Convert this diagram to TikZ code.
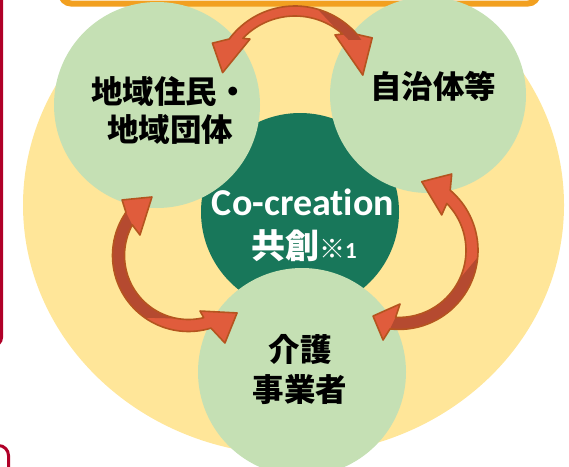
\documentclass[tikz,border=0pt]{standalone}
\usepackage{fontspec}
\setmainfont{Carlito}[Ligatures={NoCommon}]
\newfontfamily\jp{Noto Sans CJK JP}
\definecolor{yel}{RGB}{255,230,153}
\definecolor{lgreen}{RGB}{197,224,180}
\definecolor{dgreen}{RGB}{24,119,90}
\definecolor{crim}{RGB}{176,0,40}
\definecolor{obox}{RGB}{242,160,32}
\definecolor{arrfill}{RGB}{224,92,60}
\definecolor{arrdark}{RGB}{181,74,48}
\definecolor{arredge}{RGB}{181,84,31}
\def\TA{plot[domain=-40.8:-143.3,samples=40] ({82*cos(\x)},{82*sin(\x)})
  -- (-151.5:94) -- (-168:74) -- (-132.6:66.5)
  -- plot[domain=-136.4:-48.6,samples=40] ({72*cos(\x)},{72*sin(\x)})
  -- (-53:66.4) -- (-10.8:69) -- (-33:92) -- cycle}
\def\TAd{plot[domain=-74:-36,samples=30] ({82*cos(\x)},{82*sin(\x)})
  -- plot[domain=-42:-55,samples=20] ({72*cos(\x)},{72*sin(\x)}) -- cycle}
\def\LA{plot[domain=72.8:214.6,samples=50] ({76*cos(\x)},{76*sin(\x)})
  -- (219.9:86.6) -- (238:69) -- (202.9:52.7)
  -- plot[domain=208.6:76.2,samples=50] ({64*cos(\x)},{64*sin(\x)})
  -- (78.3:56.7) -- (49.8:75.2) -- (67.4:94.8) -- cycle}
\def\LAd{plot[domain=125:214.6,samples=40] ({76*cos(\x)},{76*sin(\x)})
  -- plot[domain=208.6:100,samples=40] ({64*cos(\x)},{64*sin(\x)}) -- cycle}
\def\RA{plot[domain=96.5:-49.6,samples=50] ({79*cos(\x)},{79*sin(\x)})
  -- (-55.4:92.8) -- (-71.7:72.4) -- (-39.7:55.5)
  -- plot[domain=-44.5:92.9,samples=50] ({67*cos(\x)},{67*sin(\x)})
  -- (88.9:53.6) -- (111.6:70.6) -- (100.1:91) -- cycle}
\def\RAd{plot[domain=5:96.5,samples=40] ({79*cos(\x)},{79*sin(\x)})
  -- plot[domain=92.9:25,samples=40] ({67*cos(\x)},{67*sin(\x)}) -- cycle}
\begin{document}
\begin{tikzpicture}[x=1pt,y=-1pt,
  bubble/.style={circle, fill=lgreen, inner sep=0pt},
  lbl/.style={font={\jp\bfseries\fontsize{31.5}{38}\selectfont}, inner sep=0pt, anchor=base, text=black},
  aedge/.style={draw=arredge, line width=1.6pt, line join=round},
]
\useasboundingbox (0,0) rectangle (569,466);
\clip (0,0) rectangle (569,466);
\fill[yel] (293.5,205) ellipse [x radius=270.5, y radius=250];
\draw[crim, line width=3pt, rounded corners=8pt] (-20,-20) rectangle (1.5,345.5);
\draw[crim, line width=3pt, rounded corners=10pt] (-30,445.5) rectangle (8.5,520);
\draw[obox, fill=white, line width=6pt, rounded corners=10pt] (61,-40) rectangle (538,3.5);
\node[circle, fill=dgreen, minimum size=198pt, inner sep=0pt] (core) at (300,212) {};
\node[bubble, minimum size=206pt] (res) at (157,105) {};
\node[bubble, minimum size=196pt] (gov) at (428,95) {};
\node[bubble, minimum size=208pt] (care) at (302,372) {};
% arrows
\begin{scope}[shift={(295,88)}]
  \path[fill=arrfill] \TA;
  \fill[arrdark] \TAd;
  \draw[aedge] \TA;
\end{scope}
\begin{scope}[shift={(188.5,255.5)}]
  \path[fill=arrfill] \LA;
  \fill[arrdark] \LAd;
  \draw[aedge] \LA;
\end{scope}
\begin{scope}[shift={(399,250.4)}]
  \path[fill=arrfill] \RA;
  \fill[arrdark] \RAd;
  \draw[aedge] \RA;
\end{scope}
% labels
\node[lbl] (res1) at (170,103) {地域住民・};
\node[lbl] (res2) at (170,141) {地域団体};
\node[lbl] (gov1) at (433,98) {自治体等};
\node[lbl] (care1) at (300,361) {介護};
\node[lbl] (care2) at (300,401) {事業者};
\node[inner sep=0pt, anchor=base, text=white, font={\bfseries\fontsize{38}{42}\selectfont}] (co1) at (303,215) {Co-creation};
\node[inner sep=0pt, anchor=base, text=white, font={\bfseries\fontsize{34}{40}\selectfont}] (co2) at (304,258) {{\jp 共創}{\jp\fontsize{26}{28}\selectfont ※}{\fontsize{23}{26}\selectfont 1}};
\end{tikzpicture}
\end{document}
